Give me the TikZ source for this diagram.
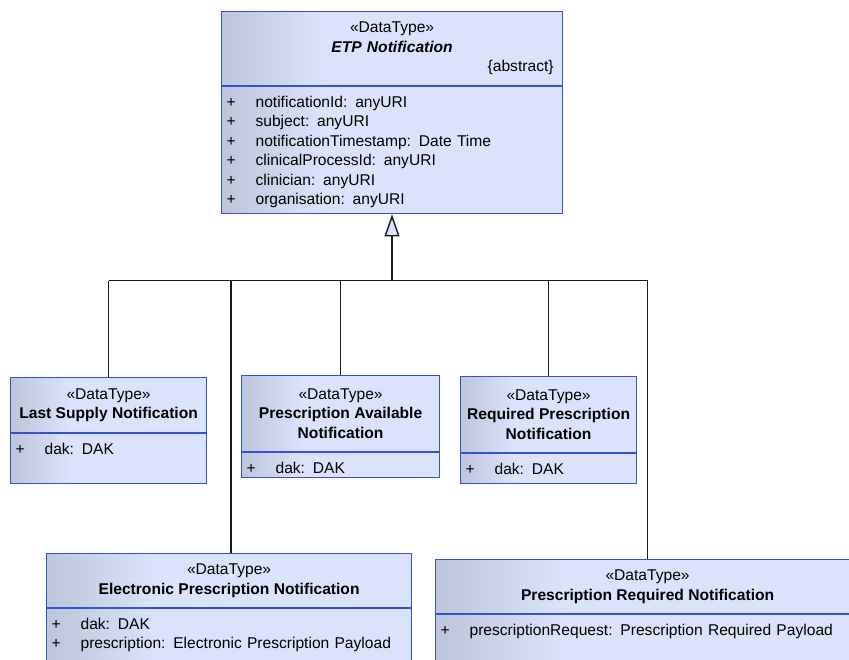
\documentclass[tikz,border=0pt]{standalone}
\usepackage{fontspec}
\setmainfont{Liberation Sans}
\usetikzlibrary{arrows.meta}
\definecolor{dtfill}{HTML}{DAE3FB}
\definecolor{dtdark}{HTML}{BCC5D9}
\definecolor{dtline}{HTML}{3354D1}
\definecolor{genline}{HTML}{1A1A1A}
\pgfdeclarehorizontalshading{dtshade}{100bp}{color(0bp)=(dtdark); color(25bp)=(dtdark);
  color(40bp)=(dtfill); color(100bp)=(dtfill)}
\tikzset{
  dt_box/.style = {inner sep=0pt, draw=dtline, line width=1.2pt, shade,
    shading=dtshade, font=\fontsize{15.6}{19.5}\selectfont},
  dt_head/.style = {dt_box, align=center, anchor=north west},
  dt_attr/.style = {dt_box, align=left, anchor=north west, inner xsep=5pt,
    text height=20.5pt},
  gen/.style = {draw=genline, line width=1.4pt}}
\newcommand{\dtattr}[1]{\makebox[29pt][l]{+}#1}

\begin{document}
\begin{tikzpicture}[x=1pt, y=-1pt]
\useasboundingbox (0,0) rectangle (849,659);
\clip (0,0) rectangle (849,659);

% abstract parent
\node [dt_head, minimum width=341pt, minimum height=74pt, text width=323pt] (etp) at (221,11)
  {«DataType»\\\textbf{\textit{ETP Notification}}\\\hfill\{abstract\}};
\node [dt_attr, text width=331pt, text depth=106.5pt] (etp_attr) at (etp.south west)
  {\dtattr{notificationId:\hspace{0.5em}anyURI}\\\dtattr{subject:\hspace{0.5em}anyURI}\\
   \dtattr{notificationTimestamp:\hspace{0.5em}Date Time}\\\dtattr{clinicalProcessId:\hspace{0.5em}anyURI}\\
   \dtattr{clinician:\hspace{0.5em}anyURI}\\\dtattr{organisation:\hspace{0.5em}anyURI}};

% specialisations
\node [dt_head, minimum width=196pt, minimum height=55pt] (lsn) at (10,377)
  {«DataType»\\\textbf{Last Supply Notification}};
\node [dt_attr, text width=186pt, text depth=29.5pt] (lsn_attr) at (lsn.south west)
  {\dtattr{dak:\hspace{0.5em}DAK}};

\node [dt_head, minimum width=198pt, minimum height=76pt] (pan) at (241,375)
  {«DataType»\\\textbf{Prescription Available}\\\textbf{Notification}};
\node [dt_attr, text width=188pt, text depth=4.5pt] (pan_attr) at (pan.south west)
  {\dtattr{dak:\hspace{0.5em}DAK}};

\node [dt_head, minimum width=176pt, minimum height=76pt] (rpn) at (460,376)
  {«DataType»\\\textbf{Required Prescription}\\\textbf{Notification}};
\node [dt_attr, text width=166pt, text depth=9.5pt] (rpn_attr) at (rpn.south west)
  {\dtattr{dak:\hspace{0.5em}DAK}};

\node [dt_head, minimum width=365pt, minimum height=54pt] (epn) at (46,553)
  {«DataType»\\\textbf{Electronic Prescription Notification}};
\node [dt_attr, text width=355pt, text depth=80pt] (epn_attr) at (epn.south west)
  {\dtattr{dak:\hspace{0.5em}DAK}\\\dtattr{prescription:\hspace{0.5em}Electronic Prescription Payload}};

\node [dt_head, minimum width=424pt, minimum height=54pt] (prn) at (435,559)
  {«DataType»\\\textbf{Prescription Required Notification}};
\node [dt_attr, text width=414pt, text depth=80pt] (prn_attr) at (prn.south west)
  {\dtattr{prescriptionRequest:\hspace{0.5em}Prescription Required Payload}};

% generalisation tree
\coordinate (bar) at (392,280.5);
\coordinate (epn_in) at ([xshift=2pt]epn.north);
\draw [gen] (lsn.north |- bar) -- (prn.north |- bar);
\foreach \kid in {lsn.north, epn_in, pan.north, rpn.north, prn.north}
  \draw [gen] (\kid) -- (\kid |- bar);
\draw [gen, -{Triangle[length=22pt, width=15pt, fill=dtfill]}] (bar) -- (etp_attr.south -| bar);
\end{tikzpicture}
\end{document}
